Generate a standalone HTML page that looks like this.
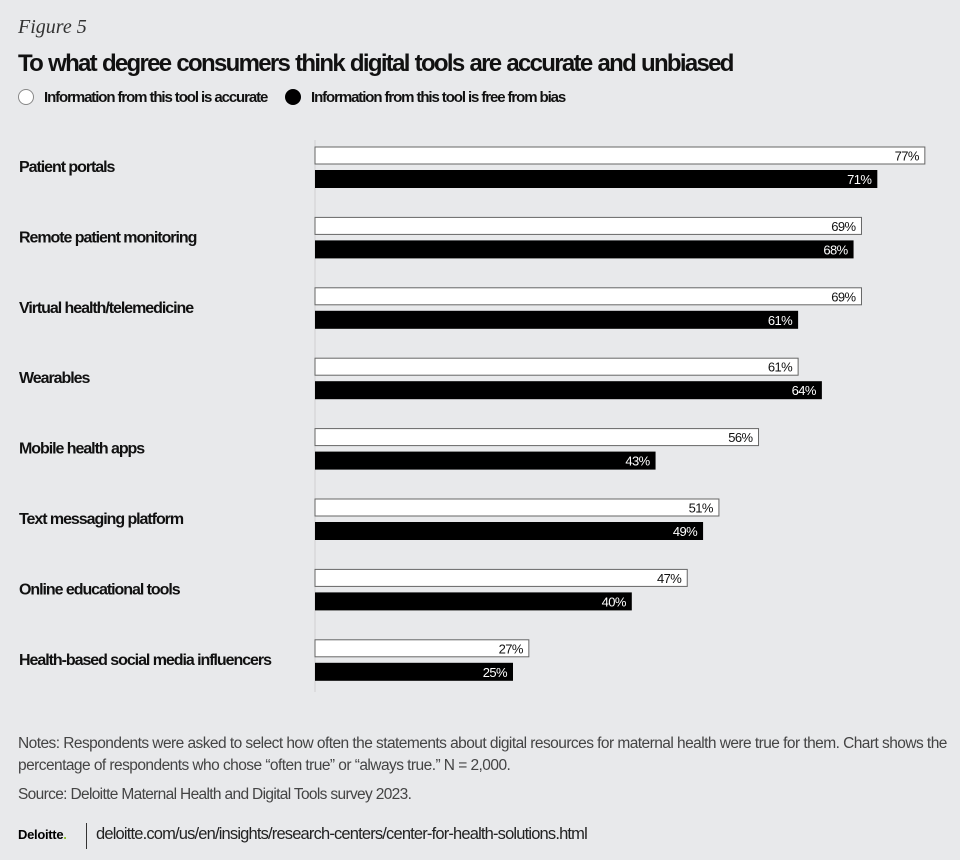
<!DOCTYPE html>
<html><head><meta charset="utf-8"><style>
body{margin:0;background:#e8e9eb;}
#wrap{position:relative;width:960px;height:860px;background:#e8e9eb;font-family:"Liberation Sans",sans-serif;color:#111;overflow:hidden}
.abs{position:absolute;white-space:nowrap}
</style></head><body>
<div id="wrap">
<div class="abs" style="left:18px;top:16px;font-family:'Liberation Serif',serif;font-style:italic;font-size:20px;color:#333">Figure 5</div>
<div class="abs" style="left:18px;top:50px;font-size:24px;font-weight:bold;letter-spacing:-1.7px;word-spacing:1px">To what degree consumers think digital tools are accurate and unbiased</div>
<div class="abs" style="left:18px;top:89px;font-size:15px;font-weight:bold;letter-spacing:-1.1px"><span style="display:inline-block;width:14px;height:14px;border-radius:50%;background:#fff;border:1px solid #888;vertical-align:-3px;margin-right:10px"></span>Information from this tool is accurate</div>
<div class="abs" style="left:285px;top:89px;font-size:15px;font-weight:bold;letter-spacing:-1.1px"><span style="display:inline-block;width:16px;height:16px;border-radius:50%;background:#000;vertical-align:-3px;margin-right:10px"></span>Information from this tool is free from bias</div>
<svg id="chart" class="abs" style="left:0;top:0" width="960" height="720"></svg>
<div class="abs" style="left:18px;top:733px;font-size:15.5px;color:#444;line-height:22px;white-space:normal;width:935px;letter-spacing:-0.55px">Notes: Respondents were asked to select how often the statements about digital resources for maternal health were true for them. Chart shows the percentage of respondents who chose “often true” or “always true.” N = 2,000.</div>
<div class="abs" style="left:18px;top:786px;font-size:15.5px;color:#444;letter-spacing:-0.66px">Source: Deloitte Maternal Health and Digital Tools survey 2023.</div>
<div class="abs" style="left:18px;top:827px;font-size:13px;font-weight:bold;color:#000;letter-spacing:-0.3px">Deloitte<span style="color:#86bc25">.</span></div>
<div class="abs" style="left:86px;top:823px;width:1px;height:26px;background:#333"></div>
<div class="abs" style="left:96px;top:825px;font-size:16.5px;color:#222;letter-spacing:-0.83px">deloitte.com/us/en/insights/research-centers/center-for-health-solutions.html</div>
</div>
<script>
const categories=["Patient portals","Remote patient monitoring","Virtual health/telemedicine","Wearables","Mobile health apps","Text messaging platform","Online educational tools","Health-based social media influencers"];
const accurate=[77,69,69,61,56,51,47,27];
const unbiased=[71,68,61,64,43,49,40,25];
const NS="http://www.w3.org/2000/svg";
const svg=document.getElementById('chart');
const x0=315,pxPer=7.92;
const xs=v=>x0+v*pxPer;
const rowY=i=>147+i*70.4;
const FF='"Liberation Sans",sans-serif';
function mk(t,a){const e=document.createElementNS(NS,t);for(const k in a)e.setAttribute(k,a[k]);svg.appendChild(e);return e;}
const ax=mk('line',{x1:x0,x2:x0,y1:140,y2:692,stroke:'#cfd0d2','stroke-width':1});


categories.forEach((c,i)=>{
 const y=rowY(i);
 const l=mk('text',{x:19,y:y+25,'font-size':16,'font-weight':'bold','font-family':FF,fill:'#111','letter-spacing':'-1.05'});
 l.textContent=c;
 
 
 const b1=mk('rect',{x:x0,y:y,width:xs(accurate[i])-x0,height:17,fill:'#fff',stroke:'#666','stroke-width':1});
 
 
 const t1=mk('text',{x:xs(accurate[i])-6,y:y+13.5,'text-anchor':'end','font-size':13,'font-family':FF,fill:'#111','letter-spacing':'-0.6'});
 t1.textContent=accurate[i]+'%';
 
 
 const b2=mk('rect',{x:x0,y:y+23,width:xs(unbiased[i])-x0,height:18,fill:'#000'});
 
 
 const t2=mk('text',{x:xs(unbiased[i])-6,y:y+37,'text-anchor':'end','font-size':13,'font-family':FF,fill:'#fff','letter-spacing':'-0.6'});
 t2.textContent=unbiased[i]+'%';
 
 
});
</script>
</body></html>
